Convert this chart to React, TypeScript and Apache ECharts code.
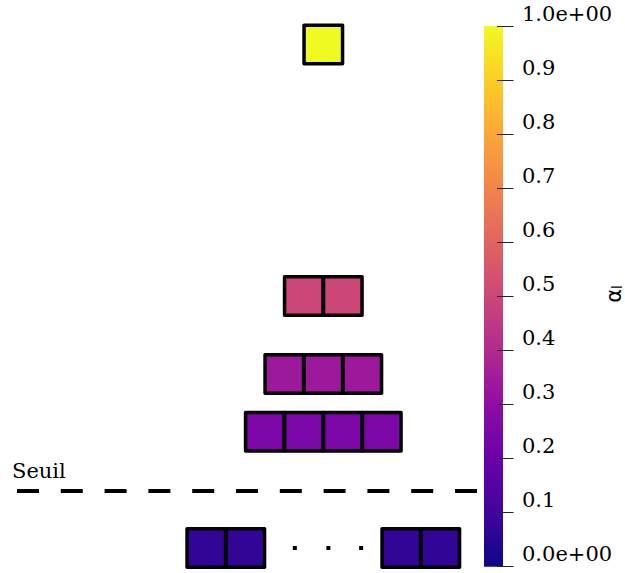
import React, { useEffect, useRef } from "react";
import * as echarts from "echarts";

// Colour map (plasma) stops, 0 -> 1
const plasma = [
  "#0d0887", "#41049d", "#6a00a8", "#8f0da4", "#b12a90", "#cc4778",
  "#e16462", "#f2844b", "#fca636", "#fcce25", "#f0f921",
];

// Rows of squares: vertical position, colour value, horizontal slots
const rowY = [0.9657, 0.5006, 0.3565, 0.2496, 0.0346];
const rowAlpha = [1.0, 0.5, 0.34, 0.25, 0.07];
const rowX: number[][] = [
  [0],
  [-0.5, 0.5],
  [-1, 0, 1],
  [-1.5, -0.5, 0.5, 1.5],
  [-3, -2, 2, 3],
];
// ellipsis dots in the bottom row
const dotsX = [-0.73, 0.13, 0.97];
const dotsY = 0.0346;
// threshold
const seuilValue = 0.1413;
const seuilLabel = "Seuil";
// colour bar ticks
const cbTicks = [0, 0.1, 0.2, 0.3, 0.4, 0.5, 0.6, 0.7, 0.8, 0.9, 1.0];
const cbLabel = "α";
const cbLabelSub = "l";

const SERIF = "DejaVu Serif";

export default function App() {
  const ref = useRef<HTMLDivElement>(null);
  useEffect(() => {
    if (!ref.current) return;
    const chart = echarts.init(ref.current, null, { renderer: "svg" });

    const squares: number[][] = [];
    rowX.forEach((xs, i) => xs.forEach((x) => squares.push([x, rowY[i], rowAlpha[i]])));
    const dots = dotsX.map((x) => [x, dotsY]);

    const stops = plasma.map((c, i) => ({ offset: i / (plasma.length - 1), color: c }));

    chart.setOption({
      animation: false,
      grid: [
        { left: 17, top: 26, width: 460.5, height: 540.7 },
        { left: 484, top: 26, width: 19, height: 540.7 },
      ],
      xAxis: [
        { gridIndex: 0, type: "value", min: -7.854, max: 3.954, show: false },
        { gridIndex: 1, type: "category", data: ["cb"], show: false, boundaryGap: true },
      ],
      yAxis: [
        { gridIndex: 0, type: "value", min: 0, max: 1, show: false },
        {
          gridIndex: 1,
          type: "value",
          min: 0,
          max: 1,
          interval: 0.1,
          position: "right",
          offset: -6,
          z: 5,
          splitLine: { show: false },
          axisLine: { show: false },
          axisTick: { show: true, length: 16.5, lineStyle: { color: "#222", width: 1 } },
          axisLabel: {
            margin: 25,
            color: "#000",
            fontFamily: SERIF,
            fontSize: 21,
            verticalAlign: "bottom",
            padding: [0, 0, 2, 0],
            formatter: (v: number) => {
              const t = cbTicks.find((c) => Math.abs(c - v) < 1e-6);
              const val = t === undefined ? v : t;
              if (val === 0 || val === 1) return val.toFixed(1) + "e+00";
              return val.toFixed(1);
            },
          },
        },
      ],
      visualMap: {
        show: false,
        type: "continuous",
        seriesIndex: 0,
        dimension: 2,
        min: 0,
        max: 1,
        inRange: { color: plasma },
      },
      series: [
        {
          type: "scatter",
          xAxisIndex: 0,
          yAxisIndex: 0,
          symbol: "rect",
          symbolSize: 38.5,
          clip: false,
          itemStyle: { opacity: 1, borderColor: "#000", borderWidth: 3.5, borderJoin: "round" },
          data: squares,
          z: 3,
        },
        {
          type: "scatter",
          xAxisIndex: 0,
          yAxisIndex: 0,
          symbol: "rect",
          symbolSize: 4,
          itemStyle: { color: "#000", opacity: 1 },
          data: dots,
          markLine: {
            silent: true,
            symbol: "none",
            label: { show: false },
            lineStyle: { color: "#000", width: 4, type: [22, 21.8], cap: "butt", opacity: 1 },
            data: [{ yAxis: seuilValue }],
          },
        },
        {
          type: "bar",
          xAxisIndex: 1,
          yAxisIndex: 1,
          barWidth: "100%",
          data: [1],
          itemStyle: {
            color: new echarts.graphic.LinearGradient(0, 1, 0, 0, stops),
          },
          z: 2,
        },
      ],
      graphic: [
        {
          type: "text",
          x: 12,
          y: 471,
          style: {
            text: seuilLabel,
            fontFamily: SERIF,
            fontSize: 21,
            fill: "#000",
            verticalAlign: "middle",
          },
        },
        {
          type: "text",
          x: 614,
          y: 294,
          rotation: Math.PI / 2,
          style: {
            text: "{a|" + cbLabel + "}{s|" + cbLabelSub + "}",
            align: "center",
            verticalAlign: "middle",
            rich: {
              a: { fontFamily: "DejaVu Sans", fontSize: 21, lineHeight: 18, fill: "#000" },
              s: { fontFamily: "DejaVu Sans", fontSize: 14, lineHeight: 18, fill: "#000", padding: [6, 0, 0, 0] },
            },
          },
        },
      ],
    });
    return () => chart.dispose();
  }, []);
  return (
    <div
      ref={ref}
      style={{ position: "absolute", left: 0, top: 0, width: 625, height: 573, background: "#fff" }}
    />
  );
}
